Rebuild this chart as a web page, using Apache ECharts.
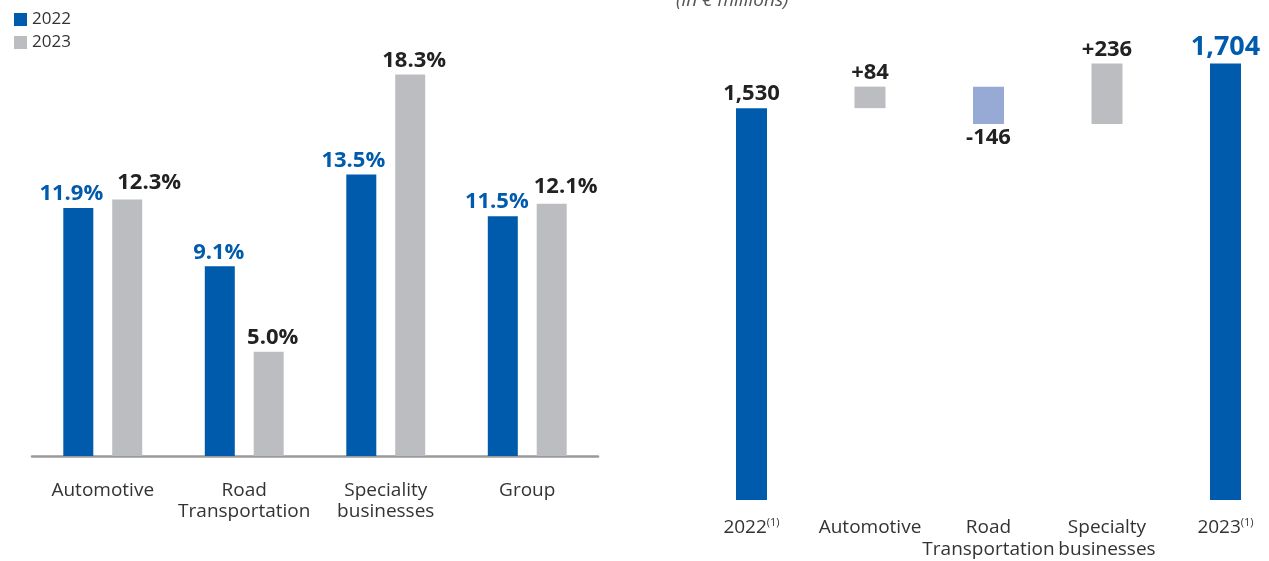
<!DOCTYPE html>
<html>
<head>
<meta charset="utf-8">
<script src="https://cdn.jsdelivr.net/npm/echarts@6/dist/echarts.min.js"></script>
<style>
html,body{margin:0;padding:0;background:#fff;}
#c{width:1269px;height:561px;}
</style>
</head>
<body>
<div id="c"></div>
<script>
// ----- Left chart data (margin %) -----
const segCategories = ['Automotive', 'Road\nTransportation', 'Speciality\nbusinesses', 'Group'];
const seriesNames = ['2022', '2023'];
const margin2022 = [11.9, 9.1, 13.5, 11.5];
const margin2023 = [12.3, 5.0, 18.3, 12.1];

// ----- Right chart data (in € millions) -----
const bridgeCategories = ['2022', 'Automotive', 'Road\nTransportation', 'Specialty\nbusinesses', '2023'];
const startValue = 1530;
const deltas = [84, -146, 236];
const endValue = 1704;
const unitNote = '(in € millions)';

// ----- styling (label nudges so neighbouring labels do not collide) -----
const labelShift2022 = [[-7, 0], [-1, 0], [-8, 0], [-6, 0]];
const labelShift2023 = [[22, -3], [4, 0], [4, 0], [14, -3]];

const BLUE = '#005bac';
const GRAY = '#bcbdc1';
const NEG = '#97a9d5';
const DARK = '#222222';
const FONT = '"Open Sans", "DejaVu Sans", sans-serif';

// build waterfall base/value arrays
const baseArr = [0];
const valArr = [startValue];
let running = startValue;
deltas.forEach(d => {
  const next = running + d;
  baseArr.push(Math.min(running, next));
  valArr.push(Math.abs(d));
  running = next;
});
baseArr.push(0);
valArr.push(endValue);

const fmt = v => v.toLocaleString('en-US');
const bridgeLabels = [fmt(startValue)].concat(deltas.map(d => (d > 0 ? '+' : '') + d)).concat([fmt(endValue)]);

const bridgeData = valArr.map((v, i) => {
  const isTotal = (i === 0 || i === valArr.length - 1);
  const d = isTotal ? null : deltas[i - 1];
  const color = isTotal ? BLUE : (d < 0 ? NEG : GRAY);
  const last = i === valArr.length - 1;
  return {
    value: v,
    itemStyle: { color: color },
    label: {
      show: true,
      position: (d !== null && d < 0) ? 'bottom' : 'top',
      distance: 3,
      formatter: bridgeLabels[i],
      fontFamily: FONT,
      fontWeight: 'bold',
      fontSize: last ? 27 : 22,
      color: last ? BLUE : DARK
    }
  };
});

const marginItems = (vals, shifts) => vals.map((v, i) => ({
  value: v,
  label: { offset: shifts[i] }
}));

const chart = echarts.init(document.getElementById('c'), null, { renderer: 'canvas' });

const option = {
  animation: false,
  backgroundColor: '#fff',
  textStyle: { fontFamily: FONT },
  legend: {
    orient: 'vertical',
    left: 9,
    top: 6,
    itemWidth: 13,
    itemHeight: 13,
    itemGap: 6,
    icon: 'rect',
    data: seriesNames,
    textStyle: { fontSize: 17, color: '#333', fontFamily: FONT }
  },
  graphic: [{
    type: 'text',
    left: 676,
    top: -9,
    style: {
      text: unitNote,
      fontFamily: FONT,
      fontStyle: 'italic',
      fontSize: 19,
      fill: '#555'
    }
  }],
  grid: [
    { left: 32, right: 671, top: 39, bottom: 105 },
    { left: 751.5, right: 43.5, top: 39, bottom: 60 }
  ],
  xAxis: [
    {
      type: 'category',
      gridIndex: 0,
      data: segCategories,
      axisLine: { lineStyle: { color: '#999', width: 2.5 } },
      axisTick: { show: false },
      axisLabel: { interval: 0, margin: 24, fontSize: 19, color: '#333', lineHeight: 21, fontFamily: FONT }
    },
    {
      type: 'category',
      gridIndex: 1,
      boundaryGap: false,
      data: bridgeCategories,
      axisLine: { show: false },
      axisTick: { show: false },
      axisLabel: {
        interval: 0, margin: 17, fontSize: 19, color: '#333', lineHeight: 22, fontFamily: FONT,
        formatter: v => (v === '2022' || v === '2023') ? v + '{sup|(1)}' : v,
        rich: {
          sup: { fontSize: 11, color: '#333', fontFamily: FONT, padding: [0, 0, 10, 0] }
        }
      }
    }
  ],
  yAxis: [
    { type: 'value', gridIndex: 0, min: 0, max: 20, show: false, splitLine: { show: false } },
    { type: 'value', gridIndex: 1, min: 0, max: 1800, show: false, splitLine: { show: false } }
  ],
  series: [
    {
      name: seriesNames[0],
      type: 'bar',
      xAxisIndex: 0, yAxisIndex: 0,
      data: marginItems(margin2022, labelShift2022),
      barWidth: 30,
      barGap: '63%',
      itemStyle: { color: BLUE },
      label: {
        show: true, position: 'top', distance: 3,
        formatter: p => p.value.toFixed(1) + '%',
        fontFamily: FONT, fontWeight: 'bold', fontSize: 22, color: BLUE
      }
    },
    {
      name: seriesNames[1],
      type: 'bar',
      xAxisIndex: 0, yAxisIndex: 0,
      data: marginItems(margin2023, labelShift2023),
      barWidth: 30,
      barGap: '63%',
      itemStyle: { color: GRAY },
      label: {
        show: true, position: 'top', distance: 3,
        formatter: p => p.value.toFixed(1) + '%',
        fontFamily: FONT, fontWeight: 'bold', fontSize: 22, color: DARK
      }
    },
    {
      name: 'base',
      type: 'bar',
      xAxisIndex: 1, yAxisIndex: 1,
      stack: 'bridge',
      barWidth: 31,
      data: baseArr,
      itemStyle: { color: 'transparent' },
      silent: true
    },
    {
      name: 'bridge',
      type: 'bar',
      xAxisIndex: 1, yAxisIndex: 1,
      stack: 'bridge',
      barWidth: 31,
      data: bridgeData
    }
  ]
};
chart.setOption(option);
</script>
</body>
</html>
